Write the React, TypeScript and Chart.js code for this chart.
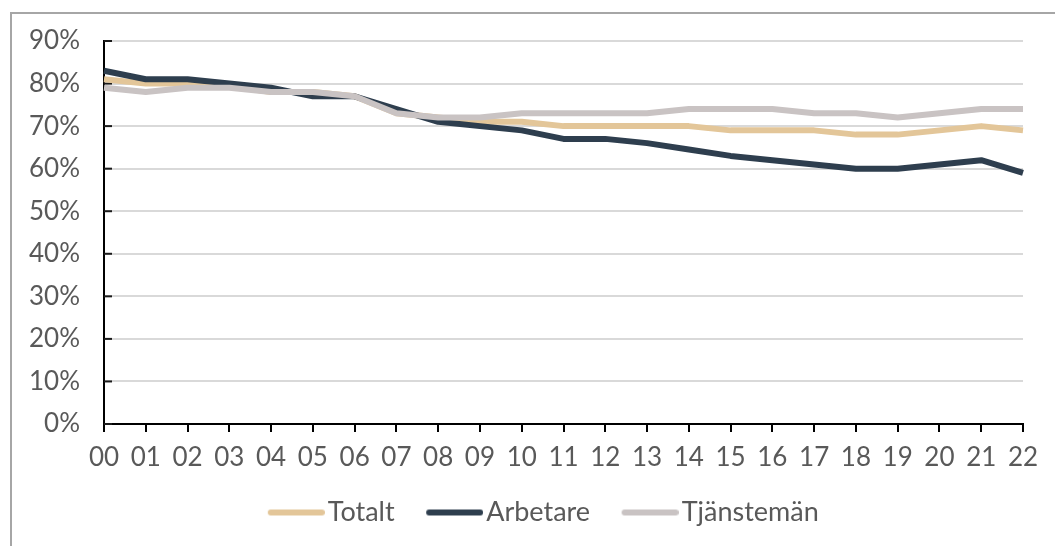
import React, { useEffect, useRef } from "react";
import { Chart, registerables } from "chart.js";

Chart.register(...registerables);

const categories = ["00","01","02","03","04","05","06","07","08","09","10","11","12","13","14","15","16","17","18","19","20","21","22"];
const totalt = [81, 80, 80, 79.5, 78, 78, 77, 73, 72, 71, 71, 70, 70, 70, 70, 69, 69, 69, 68, 68, 69, 70, 69];
const arbetare = [83, 81, 81, 80, 79, 77, 77, 74, 71, 70, 69, 67, 67, 66, 64.5, 63, 62, 61, 60, 60, 61, 62, 59];
const tjanstemen = [79, 78, 79, 79, 78, 78, 77, 73, 72, 72, 73, 73, 73, 73, 74, 74, 74, 73, 73, 72, 73, 74, 74];
const yTicks = [0, 10, 20, 30, 40, 50, 60, 70, 80, 90];

const FONT = "Lato, 'DejaVu Sans', sans-serif";
const TEXT = "#595959";

const innerTicks = {
  id: "innerTicks",
  beforeDatasetsDraw(chart: any) {
    const y = chart.scales.y;
    const ctx = chart.ctx;
    ctx.save();
    ctx.strokeStyle = "#1a1a1a";
    ctx.lineWidth = 2;
    for (const v of yTicks) {
      const py = y.getPixelForValue(v);
      ctx.beginPath();
      ctx.moveTo(chart.chartArea.left, py);
      ctx.lineTo(chart.chartArea.left + 8, py);
      ctx.stroke();
    }
    ctx.restore();
  },
};

const shiftLegend = {
  id: "shiftLegend",
  afterLayout(chart: any) {
    const lg = chart.legend;
    if (lg) {
      lg.left += 31;
      lg.right += 31;
    }
  },
};

function legendSwatch(color: string) {
  const c = document.createElement("canvas");
  c.width = 69;
  c.height = 8;
  const g = c.getContext("2d")!;
  g.strokeStyle = color;
  g.lineWidth = 6;
  g.lineCap = "round";
  g.beginPath();
  g.moveTo(15, 4);
  g.lineTo(66, 4);
  g.stroke();
  return c;
}

export default function App() {
  const ref = useRef<HTMLCanvasElement>(null);
  useEffect(() => {
    const mk = (label: string, data: number[], color: string, order: number) => ({
      label,
      data,
      borderColor: color,
      backgroundColor: color,
      borderWidth: 6,
      pointRadius: 0,
      tension: 0,
      order,
      borderCapStyle: "butt" as const,
      borderJoinStyle: "round" as const,
    });
    const chart = new Chart(ref.current!, {
      type: "line",
      data: {
        labels: categories,
        datasets: [
          mk("Totalt", totalt, "#e3c699", 3),
          mk("Arbetare", arbetare, "#2e3e4e", 2),
          mk("Tjänstemän", tjanstemen, "#c9c3c3", 1),
        ],
      },
      plugins: [innerTicks, shiftLegend],
      options: {
        responsive: false,
        animation: false,
        layout: { padding: { left: 0, right: 32, top: 41, bottom: 10 } },
        plugins: {
          tooltip: { enabled: false },
          legend: {
            position: "bottom",
            labels: {
              usePointStyle: true,
              pointStyleWidth: 48,
              boxHeight: 6,
              padding: 30,
              color: TEXT,
              font: { family: FONT, size: 27 },
              sort: (a: any, b: any) => a.datasetIndex - b.datasetIndex,
              generateLabels: (chart: any) =>
                Chart.defaults.plugins.legend.labels
                  .generateLabels(chart)
                  .map((it: any) => ({
                    ...it,
                    pointStyle: legendSwatch(chart.data.datasets[it.datasetIndex].borderColor),
                  })),
            },
          },
        },
        scales: {
          x: {
            type: "category",
            offset: false,
            border: { color: "#000000", width: 2 },
            grid: {
              drawOnChartArea: false,
              drawTicks: true,
              tickLength: 8,
              color: "#000000",
              lineWidth: 2,
            },
            ticks: {
              color: TEXT,
              font: { family: FONT, size: 26 },
              padding: 10,
              maxRotation: 0,
              autoSkip: false,
            },
            afterFit: (s: any) => {
              s.height = 45;
            },
          },
          y: {
            min: 0,
            max: 90,
            border: { color: "#000000", width: 2 },
            grid: {
              color: "#d9d9d9",
              lineWidth: 2,
              drawTicks: false,
            },
            ticks: {
              stepSize: 10,
              color: TEXT,
              padding: 24,
              font: { family: FONT, size: 26 },
              callback: (v: any) => v + "%",
            },
            afterFit: (s: any) => {
              s.width = 104;
            },
          },
        },
      },
    });
    return () => chart.destroy();
  }, []);
  return (
    <div style={{ position: "fixed", left: 0, top: 0, width: 1055, height: 546, overflow: "hidden", background: "#fff" }}>
      <div
        style={{
          position: "absolute",
          left: 10,
          top: 12,
          width: 1200,
          height: 700,
          borderLeft: "2px solid #a6a6a6",
          borderTop: "2px solid #a6a6a6",
        }}
      />
      <canvas ref={ref} width={1055} height={546} style={{ position: "absolute", left: 0, top: 0 }} />
    </div>
  );
}
